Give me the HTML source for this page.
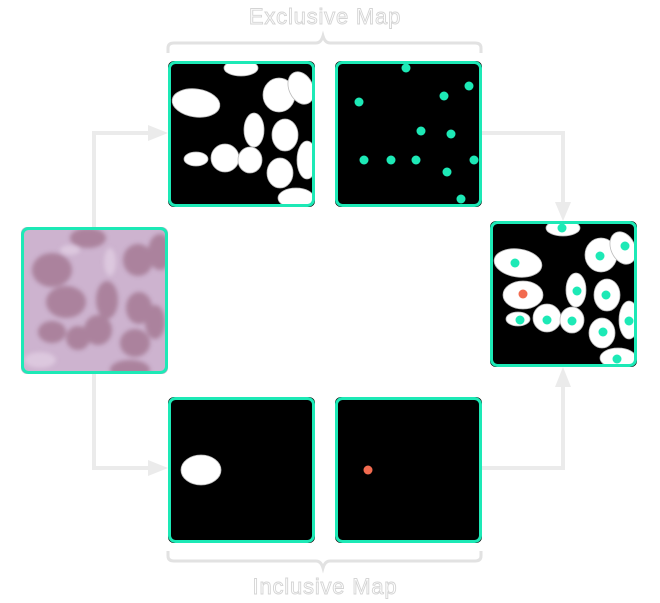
<!DOCTYPE html>
<html><head><meta charset="utf-8"><style>
html,body{margin:0;padding:0;background:#fff;width:660px;height:603px;overflow:hidden}
svg{display:block}
</style></head><body>
<svg width="660" height="603" viewBox="0 0 660 603" xmlns="http://www.w3.org/2000/svg">
<defs>
<filter id="blur"><feGaussianBlur stdDeviation="2.2"/></filter>
<clipPath id="cl"><rect x="21" y="227" width="147" height="147" rx="6"/></clipPath>
<clipPath id="ctl"><rect x="168" y="61" width="147" height="146" rx="6"/></clipPath>
<clipPath id="crt"><rect x="490" y="221" width="147" height="146" rx="6"/></clipPath>
</defs>

<text x="325" y="24" text-anchor="middle" font-family="Liberation Sans, sans-serif" font-size="22" letter-spacing="0.8" fill="#fff" stroke="#d4d4d4" stroke-width="0.9">Exclusive Map</text>
<text x="325" y="594" text-anchor="middle" font-family="Liberation Sans, sans-serif" font-size="22" letter-spacing="0.8" fill="#fff" stroke="#d4d4d4" stroke-width="0.9">Inclusive Map</text>

<path d="M168,53 L168,48 Q168,43 174,43 L316,43 Q321,43 323,36 Q325,43 330,43 L475,43 Q481,43 481,48 L481,53" fill="none" stroke="#e2e2e2" stroke-width="3"/>
<path d="M168,551 L168,556 Q168,561 174,561 L316,561 Q321,561 323,568 Q325,561 330,561 L475,561 Q481,561 481,556 L481,551" fill="none" stroke="#e2e2e2" stroke-width="3"/>

<g fill="none" stroke="#ebebeb" stroke-width="4">
<path d="M94,227 L94,133 L150,133"/>
<path d="M94,374 L94,468 L150,468"/>
<path d="M481,133 L563,133 L563,204"/>
<path d="M481,468 L563,468 L563,384"/>
</g>
<g fill="#ebebeb">
<polygon points="148,125 168,133 148,141"/>
<polygon points="148,460 168,468 148,476"/>
<polygon points="555,202 563,221 571,202"/>
<polygon points="555,387 563,367 571,387"/>
</g>

<g clip-path="url(#cl)">
<rect x="21" y="227" width="147" height="147" fill="#cdb3cf"/>
<g filter="url(#blur)" fill="#a57a94" opacity="0.85">
<ellipse cx="88" cy="238" rx="18" ry="10"/>
<ellipse cx="52" cy="270" rx="20" ry="17"/>
<ellipse cx="138" cy="260" rx="15" ry="16"/>
<ellipse cx="160" cy="252" rx="12" ry="18"/>
<ellipse cx="66" cy="302" rx="20" ry="16"/>
<ellipse cx="107" cy="300" rx="11" ry="19"/>
<ellipse cx="139" cy="308" rx="13" ry="16"/>
<ellipse cx="52" cy="332" rx="14" ry="11"/>
<ellipse cx="98" cy="330" rx="14" ry="15"/>
<ellipse cx="155" cy="322" rx="10" ry="17"/>
<ellipse cx="135" cy="343" rx="15" ry="14"/>
<ellipse cx="130" cy="370" rx="20" ry="10"/>
<ellipse cx="78" cy="338" rx="12" ry="12"/>
</g>
<g fill="#e6d6e8" opacity="0.6" filter="url(#blur)">
<ellipse cx="110" cy="262" rx="6" ry="14"/>
<ellipse cx="40" cy="360" rx="16" ry="8"/>
<ellipse cx="70" cy="250" rx="10" ry="5"/>
</g>
</g>
<rect x="22.5" y="228.5" width="144" height="144" rx="6" fill="none" stroke="#1de9b6" stroke-width="3"/>

<rect x="168" y="61" width="147" height="146" rx="6" fill="#000"/>
<g clip-path="url(#ctl)" fill="#fff" stroke="#bbb" stroke-width="0.8" id="blobs">
<ellipse cx="241" cy="68" rx="17" ry="8"/>
<ellipse cx="196" cy="103" rx="24" ry="14" transform="rotate(8 196 103)"/>
<ellipse cx="279" cy="95" rx="16" ry="17"/>
<ellipse cx="301" cy="88" rx="12" ry="17" transform="rotate(-25 301 88)"/>
<ellipse cx="254" cy="130" rx="10" ry="17"/>
<ellipse cx="285" cy="135" rx="13" ry="16"/>
<ellipse cx="196" cy="159" rx="12" ry="7"/>
<ellipse cx="225" cy="158" rx="14" ry="14"/>
<ellipse cx="250" cy="160" rx="12" ry="13"/>
<ellipse cx="280" cy="173" rx="13" ry="15"/>
<ellipse cx="307" cy="160" rx="10" ry="19"/>
<ellipse cx="296" cy="198" rx="18" ry="10"/>
</g>
<rect x="169.5" y="62.5" width="144" height="143" rx="6" fill="none" stroke="#1de9b6" stroke-width="3"/>

<rect x="335" y="61" width="147" height="146" rx="6" fill="#000"/>
<g fill="#1de9b6">
<circle cx="406" cy="68" r="4.5"/><circle cx="469" cy="86" r="4.5"/><circle cx="444" cy="96" r="4.5"/>
<circle cx="359" cy="102" r="4.5"/><circle cx="421" cy="131" r="4.5"/><circle cx="451" cy="134" r="4.5"/>
<circle cx="364" cy="160" r="4.5"/><circle cx="391" cy="160" r="4.5"/><circle cx="416" cy="160" r="4.5"/>
<circle cx="474" cy="160" r="4.5"/><circle cx="447" cy="172" r="4.5"/><circle cx="461" cy="199" r="4.5"/>
</g>
<rect x="336.5" y="62.5" width="144" height="143" rx="6" fill="none" stroke="#1de9b6" stroke-width="3"/>

<rect x="168" y="397" width="147" height="146" rx="6" fill="#000"/>
<ellipse cx="201" cy="470" rx="20" ry="15" fill="#fff" stroke="#bbb" stroke-width="0.8"/>
<rect x="169.5" y="398.5" width="144" height="143" rx="6" fill="none" stroke="#1de9b6" stroke-width="3"/>

<rect x="335" y="397" width="147" height="146" rx="6" fill="#000"/>
<circle cx="368" cy="470" r="4.5" fill="#f26b50"/>
<rect x="336.5" y="398.5" width="144" height="143" rx="6" fill="none" stroke="#1de9b6" stroke-width="3"/>

<rect x="490" y="221" width="147" height="146" rx="6" fill="#000"/>
<g clip-path="url(#crt)">
<use href="#blobs" transform="translate(322 160)"/>
<ellipse cx="523" cy="295" rx="20" ry="14" fill="#fff" stroke="#bbb" stroke-width="0.8"/>
</g>
<g fill="#1de9b6">
<circle cx="562" cy="228" r="4.5"/><circle cx="625" cy="246" r="4.5"/><circle cx="600" cy="256" r="4.5"/>
<circle cx="515" cy="263" r="4.5"/><circle cx="577" cy="291" r="4.5"/><circle cx="606" cy="295" r="4.5"/>
<circle cx="520" cy="320" r="4.5"/><circle cx="547" cy="320" r="4.5"/><circle cx="572" cy="321" r="4.5"/>
<circle cx="629" cy="321" r="4.5"/><circle cx="603" cy="332" r="4.5"/><circle cx="617" cy="359" r="4.5"/>
</g>
<circle cx="523" cy="294" r="4.5" fill="#f26b50"/>
<rect x="491.5" y="222.5" width="144" height="143" rx="6" fill="none" stroke="#1de9b6" stroke-width="3"/>
</svg>
</body></html>
